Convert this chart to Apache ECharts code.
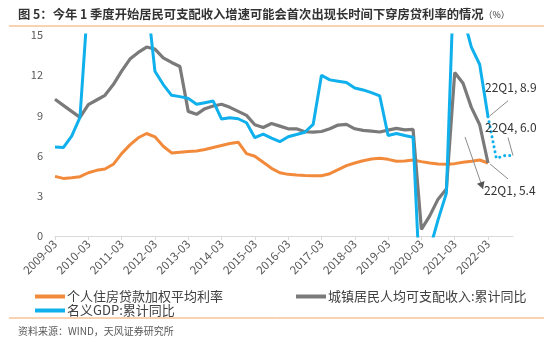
<!DOCTYPE html>
<html><head><meta charset="utf-8">
<script src="https://cdn.jsdelivr.net/npm/echarts/dist/echarts.min.js"></script>
<style>html,body{margin:0;padding:0;background:#fff}#c{width:553px;height:353px}</style>
</head><body><div id="c"></div>
<script>
const categories = [
 '2009-03','2009-06','2009-09','2009-12','2010-03','2010-06','2010-09','2010-12',
 '2011-03','2011-06','2011-09','2011-12','2012-03','2012-06','2012-09','2012-12',
 '2013-03','2013-06','2013-09','2013-12','2014-03','2014-06','2014-09','2014-12',
 '2015-03','2015-06','2015-09','2015-12','2016-03','2016-06','2016-09','2016-12',
 '2017-03','2017-06','2017-09','2017-12','2018-03','2018-06','2018-09','2018-12',
 '2019-03','2019-06','2019-09','2019-12','2020-03','2020-06','2020-09','2020-12',
 '2021-03','2021-06','2021-09','2021-12','2022-03','2022-06','2022-09','2022-12'
];
const seriesNames = ['个人住房贷款加权平均利率','城镇居民人均可支配收入:累计同比','名义GDP:累计同比'];
const mortgageRate = [
 4.45,4.3,4.35,4.43,4.72,4.9,5.0,5.35,
 6.15,6.8,7.33,7.65,7.4,6.7,6.2,6.25,
 6.3,6.35,6.45,6.6,6.75,6.9,7.0,6.15,
 5.95,5.5,5.05,4.72,4.6,4.55,4.52,4.5,
 4.5,4.65,4.95,5.25,5.45,5.62,5.75,5.8,
 5.72,5.58,5.6,5.67,5.55,5.45,5.38,5.35,
 5.4,5.5,5.58,5.67,5.45,null,null,null
];
const incomeGrowth = [
 10.2,9.75,9.3,8.85,9.8,10.15,10.5,11.3,
 12.3,13.2,13.7,14.1,13.95,13.3,12.95,12.65,
 9.3,9.08,9.5,9.7,9.83,9.6,9.3,9.0,
 8.3,8.1,8.4,8.2,8.0,8.0,7.78,7.75,
 7.8,8.0,8.28,8.33,8.0,7.88,7.82,7.76,
 7.9,8.03,7.92,7.95,0.5,1.5,2.75,3.5,
 12.2,11.4,9.6,8.3,5.45,null,null,null
];
const gdpGrowth = [
 6.65,6.6,7.45,8.85,18.0,18.5,17.9,17.8,
 19.0,19.2,18.8,18.0,12.3,11.3,10.5,10.4,
 10.27,9.83,9.95,10.07,8.73,8.83,8.75,8.45,
 7.34,7.6,7.3,7.04,7.41,7.57,7.74,8.33,
 12.0,11.65,11.55,11.45,11.05,10.9,10.7,10.45,
 7.5,7.65,7.5,7.37,-6.0,-1.0,1.2,3.2,
 21.0,16.4,14.1,12.8,8.9,null,null,null
];
const gdpForecast = [
 null,null,null,null,null,null,null,null,
 null,null,null,null,null,null,null,null,
 null,null,null,null,null,null,null,null,
 null,null,null,null,null,null,null,null,
 null,null,null,null,null,null,null,null,
 null,null,null,null,null,null,null,null,
 null,null,null,null,8.9,5.8,6.0,6.0
];
const yMin = 0, yMax = 15, yStep = 3;
const annoLabels = ['22Q1, 8.9','22Q4, 6.0','22Q1, 5.4'];
const titleMain = '图 5：今年 1 季度开始居民可支配收入增速可能会首次出现长时间下穿房贷利率的情况';
const titleUnit = '（%）';
const sourceText = '资料来源：WIND，天风证券研究所';

const colors = ['#F28A3C','#7A7A7A','#0FB0EC'];
const FONT = '"Noto Sans CJK SC","Noto Sans",sans-serif';

const chart = echarts.init(document.getElementById('c'), null, {renderer:'canvas'});
const legendBase = {
  icon:'rect', itemWidth:30, itemHeight:4, itemGap:10,
  textStyle:{color:'#404040', fontSize:13, fontFamily:FONT, padding:[0,0,0,-3]},
  selectedMode:false
};
chart.setOption({
  animation:false,
  backgroundColor:'#fff',
  grid:{left:55, right:40, top:35, bottom:117, containLabel:false},
  legend:[
    Object.assign({}, legendBase, {data:[seriesNames[0]], left:30, top:285}),
    Object.assign({}, legendBase, {data:[seriesNames[1]], left:291, top:285}),
    Object.assign({}, legendBase, {data:[seriesNames[2]], left:30, top:299})
  ],
  xAxis:{
    type:'category', data:categories, boundaryGap:false,
    axisLine:{lineStyle:{color:'#D9D9D9', width:1}},
    axisTick:{show:true, interval:3, length:4, lineStyle:{color:'#D9D9D9'}},
    axisLabel:{interval:3, rotate:45, color:'#595959', fontSize:11.5, fontFamily:FONT, margin:6}
  },
  yAxis:{
    type:'value', min:yMin, max:yMax, interval:yStep,
    axisLine:{show:false}, axisTick:{show:false}, splitLine:{show:false},
    axisLabel:{color:'#595959', fontSize:11, fontFamily:FONT, margin:12}
  },
  series:[
    {name:seriesNames[0], type:'line', data:mortgageRate, symbol:'none', z:2, clip:true,
     lineStyle:{color:colors[0], width:3}, itemStyle:{color:colors[0]}},
    {name:seriesNames[1], type:'line', data:incomeGrowth, symbol:'none', z:3, clip:true,
     lineStyle:{color:colors[1], width:3.2}, itemStyle:{color:colors[1]}},
    {name:seriesNames[2], type:'line', data:gdpGrowth, symbol:'none', z:4, clip:true,
     lineStyle:{color:colors[2], width:3}, itemStyle:{color:colors[2]}},
    {name:'forecast', type:'line', data:gdpForecast, symbol:'none', z:4, clip:true,
     lineStyle:{color:colors[2], width:3, type:[0.1,5], cap:'round'}, itemStyle:{color:colors[2]}}
  ]
});

const px = (i, v) => chart.convertToPixel({gridIndex:0}, [categories[i], v]);
const iLast = 52, iFc = 55;
const pB = px(iLast, gdpGrowth[iLast]);
const pF = px(iFc, gdpForecast[iFc]);
const pG = px(iLast, incomeGrowth[iLast]);
const leader = {stroke:'#8C8C8C', lineWidth:1};
const annoText = {fill:'#333', fontSize:12, fontFamily:FONT, textVerticalAlign:'middle'};
// arrow
const a0 = [pG[0]-23, pG[1]-26], a1 = [pG[0]-5, pG[1]+26];
const dx = a1[0]-a0[0], dy = a1[1]-a0[1], L = Math.hypot(dx,dy);
const ux = dx/L, uy = dy/L, nx = -uy, ny = ux;
const head = [[a1[0],a1[1]],[a1[0]-7*ux+4*nx, a1[1]-7*uy+4*ny],[a1[0]-7*ux-4*nx, a1[1]-7*uy-4*ny]];

chart.setOption({
  graphic:[
    {type:'text', left:18, top:8, style:{text:'{a|'+titleMain+'}{b|'+titleUnit+'}', rich:{
      a:{fill:'#333', fontSize:12.3, fontWeight:'bold', fontFamily:FONT},
      b:{fill:'#333', fontSize:9, fontFamily:FONT}}}},
    {type:'line', shape:{x1:9, y1:26, x2:544, y2:26}, style:{stroke:'#F4A564', lineWidth:1}},
    {type:'line', shape:{x1:9, y1:318, x2:544, y2:318}, style:{stroke:'#F4A564', lineWidth:1}},
    {type:'text', left:18, top:326, style:{text:sourceText, fill:'#595959', fontSize:10, fontFamily:FONT}},
    {type:'line', shape:{x1:pB[0]+2, y1:pB[1]-1, x2:pB[0]+20, y2:pB[1]-16}, style:leader, z:10},
    {type:'text', x:pB[0]-3, y:pB[1]-29, style:Object.assign({text:annoLabels[0]}, annoText), z:10},
    {type:'line', shape:{x1:pF[0]-5, y1:pF[1]-18, x2:pF[0], y2:pF[1]}, style:leader, z:10},
    {type:'text', x:pF[0]-28, y:pF[1]-28, style:Object.assign({text:annoLabels[1]}, annoText), z:10},
    {type:'line', shape:{x1:pG[0]+2, y1:pG[1]+1, x2:pG[0]+20, y2:pG[1]+16}, style:leader, z:10},
    {type:'text', x:pG[0]-4, y:pG[1]+27, style:Object.assign({text:annoLabels[2]}, annoText), z:10},
    {type:'line', shape:{x1:a0[0], y1:a0[1], x2:a1[0], y2:a1[1]}, style:leader, z:10},
    {type:'polygon', shape:{points:head}, style:{fill:'#555'}, z:10}
  ]
});
</script></body></html>
